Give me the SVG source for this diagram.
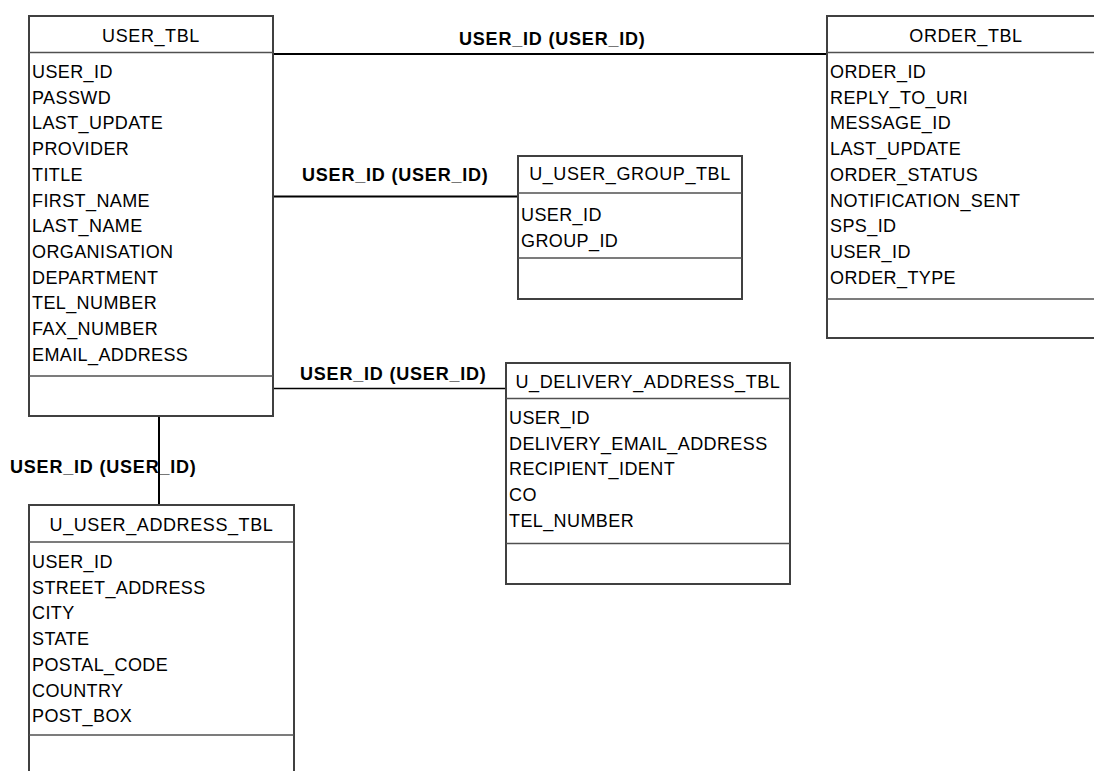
<svg xmlns="http://www.w3.org/2000/svg" width="1094" height="771" viewBox="0 0 1094 771">
<style>
.box{fill:#fff;stroke:#404040;stroke-width:2}
.div{stroke:#505050;stroke-width:1.5}
.t{font-family:"Liberation Sans",Arial,sans-serif;font-size:18px;fill:#000;text-anchor:middle;letter-spacing:0.6px}
.f{font-family:"Liberation Sans",Arial,sans-serif;font-size:18px;fill:#000;letter-spacing:0.4px}
.lbl{font-family:"Liberation Sans",Arial,sans-serif;font-size:18px;font-weight:bold;fill:#000;letter-spacing:0.8px}
.c{stroke:#000;fill:none}
</style>
<rect width="1094" height="771" fill="#fff"/>
<g id="connectors">
<line class="c" x1="273" y1="54" x2="827" y2="54" stroke-width="2.2"/>
<text class="lbl" x="459" y="45">USER_ID (USER_ID)</text>
<line class="c" x1="273" y1="196.5" x2="518" y2="196.5" stroke-width="2.2"/>
<text class="lbl" x="302" y="181">USER_ID (USER_ID)</text>
<line class="c" x1="273" y1="388.5" x2="506" y2="388.5" stroke-width="1.5"/>
<text class="lbl" x="300" y="380">USER_ID (USER_ID)</text>
<line class="c" x1="159" y1="416" x2="159" y2="505" stroke-width="2"/>
</g>
<text class="lbl" x="10" y="473">USER_ID (USER_ID)</text>
<g id="USER_TBL">
<rect class="box" x="29" y="16" width="244" height="400"/>
<line class="div" x1="29" y1="52.5" x2="273" y2="52.5"/>
<line class="div" x1="29" y1="376" x2="273" y2="376"/>
<text class="t" x="151" y="42">USER_TBL</text>
<text class="f" x="32" y="78">USER_ID</text>
<text class="f" x="32" y="103.7">PASSWD</text>
<text class="f" x="32" y="129.4">LAST_UPDATE</text>
<text class="f" x="32" y="155.1">PROVIDER</text>
<text class="f" x="32" y="180.8">TITLE</text>
<text class="f" x="32" y="206.5">FIRST_NAME</text>
<text class="f" x="32" y="232.2">LAST_NAME</text>
<text class="f" x="32" y="257.9">ORGANISATION</text>
<text class="f" x="32" y="283.6">DEPARTMENT</text>
<text class="f" x="32" y="309.3">TEL_NUMBER</text>
<text class="f" x="32" y="335">FAX_NUMBER</text>
<text class="f" x="32" y="360.7">EMAIL_ADDRESS</text>
</g>
<g id="ORDER_TBL">
<rect class="box" x="827" y="16" width="280" height="322"/>
<line class="div" x1="827" y1="52.5" x2="1107" y2="52.5"/>
<line class="div" x1="827" y1="299" x2="1107" y2="299"/>
<text class="t" x="966" y="42">ORDER_TBL</text>
<text class="f" x="830" y="78">ORDER_ID</text>
<text class="f" x="830" y="103.7">REPLY_TO_URI</text>
<text class="f" x="830" y="129.4">MESSAGE_ID</text>
<text class="f" x="830" y="155.1">LAST_UPDATE</text>
<text class="f" x="830" y="180.8">ORDER_STATUS</text>
<text class="f" x="830" y="206.5">NOTIFICATION_SENT</text>
<text class="f" x="830" y="232.2">SPS_ID</text>
<text class="f" x="830" y="257.9">USER_ID</text>
<text class="f" x="830" y="283.6">ORDER_TYPE</text>
</g>
<g id="U_USER_GROUP_TBL">
<rect class="box" x="518" y="156" width="224" height="143"/>
<line class="div" x1="518" y1="193" x2="742" y2="193"/>
<line class="div" x1="518" y1="258" x2="742" y2="258"/>
<text class="t" x="630" y="180">U_USER_GROUP_TBL</text>
<text class="f" x="521" y="221">USER_ID</text>
<text class="f" x="521" y="246.7">GROUP_ID</text>
</g>
<g id="U_DELIVERY_ADDRESS_TBL">
<rect class="box" x="506" y="363" width="284" height="221"/>
<line class="div" x1="506" y1="398.5" x2="790" y2="398.5"/>
<line class="div" x1="506" y1="543.5" x2="790" y2="543.5"/>
<text class="t" x="648" y="388">U_DELIVERY_ADDRESS_TBL</text>
<text class="f" x="509" y="424">USER_ID</text>
<text class="f" x="509" y="449.7">DELIVERY_EMAIL_ADDRESS</text>
<text class="f" x="509" y="475.4">RECIPIENT_IDENT</text>
<text class="f" x="509" y="501.1">CO</text>
<text class="f" x="509" y="526.8">TEL_NUMBER</text>
</g>
<g id="U_USER_ADDRESS_TBL">
<rect class="box" x="29" y="505" width="265" height="280"/>
<line class="div" x1="29" y1="542" x2="294" y2="542"/>
<line class="div" x1="29" y1="735" x2="294" y2="735"/>
<text class="t" x="161.5" y="531">U_USER_ADDRESS_TBL</text>
<text class="f" x="32" y="568">USER_ID</text>
<text class="f" x="32" y="593.7">STREET_ADDRESS</text>
<text class="f" x="32" y="619.4">CITY</text>
<text class="f" x="32" y="645.1">STATE</text>
<text class="f" x="32" y="670.8">POSTAL_CODE</text>
<text class="f" x="32" y="696.5">COUNTRY</text>
<text class="f" x="32" y="722.2">POST_BOX</text>
</g>
</svg>
